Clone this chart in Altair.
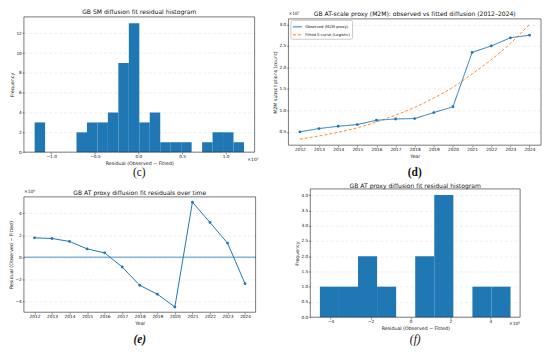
import altair as alt
import pandas as pd

C0 = "#1f77b4"
C1 = "#ff7f0e"
FONT = "DejaVu Sans"
SERIF = "Liberation Serif"

# ---------------- data ----------------
# (c) GB SM residual histogram, residual in units of 1e5
sm_edges = [-1.19, -1.07, -0.95, -0.83, -0.71, -0.59, -0.47, -0.35, -0.23, -0.11,
            0.01, 0.13, 0.25, 0.37, 0.49, 0.61, 0.73, 0.85, 0.97, 1.09, 1.21]
sm_counts = [3, 0, 0, 0, 2, 3, 3, 4, 9, 13, 3, 4, 1, 1, 1, 0, 1, 2, 2, 1]

# (d) observed vs fitted, units of 1e7
years = [2012, 2013, 2014, 2015, 2016, 2017, 2018, 2019, 2020, 2021, 2022, 2023, 2024]
observed = [0.50, 0.577, 0.63, 0.67, 0.77, 0.80, 0.81, 0.95, 1.085, 2.35, 2.50, 2.69, 2.75]
fitted = [0.33, 0.405, 0.49, 0.595, 0.73, 0.89, 1.07, 1.29, 1.54, 1.85, 2.18, 2.56, 3.00]

# (e) residuals over time, units of 1e6
residuals = [1.76, 1.70, 1.43, 0.75, 0.39, -0.90, -2.57, -3.37, -4.54, 5.01, 3.16, 1.28, -2.42]

# (f) AT residual histogram, units of 1e6
at_edges = [-4.54, -3.585, -2.63, -1.675, -0.72, 0.235, 1.19, 2.145, 3.10, 4.055, 5.01]
at_counts = [1, 1, 2, 1, 0, 2, 4, 0, 1, 1]

series_names = ["Observed (M2M proxy)", "Fitted S-curve (Logistic)"]

# ---------------- layout ----------------
W_c, W_d, W_e, W_f = 232, 254, 233, 211
H1, H2 = 136, 129
d_top, d_bot = 2, 129
e_top, e_bot = 8, 124
TS = 6.1  # panel title size

one = pd.DataFrame({"k": [0]})


def frame(w, top, bot):
    return alt.Chart(one).mark_rect(fill="transparent", stroke="#222", strokeWidth=0.6).encode(
        x=alt.value(0), x2=alt.value(w), y=alt.value(top), y2=alt.value(bot))


def label(text, x, y, size=4.5, align="center", baseline="middle", font=FONT, **kw):
    return alt.Chart(one).mark_text(text=text, fontSize=size, align=align, baseline=baseline,
                                    font=font, fill="#111", **kw).encode(
        x=alt.value(x), y=alt.value(y))


# ---------------- (c) ----------------
df_c = pd.DataFrame({"start": sm_edges[:-1], "end": sm_edges[1:], "count": sm_counts,
                     "base": [0] * len(sm_counts)})
bars_c = alt.Chart(df_c).mark_rect(color=C0).encode(
    x=alt.X("start:Q", scale=alt.Scale(domain=[-1.313, 1.332], nice=False, zero=False),
            axis=alt.Axis(values=[-1.0, -0.5, 0.0, 0.5, 1.0], format=".1f",
                          title="Residual (Observed − Fitted)")),
    x2="end:Q",
    y=alt.Y("count:Q", scale=alt.Scale(domain=[0, 13.65], nice=False),
            axis=alt.Axis(values=[0, 2, 4, 6, 8, 10, 12], title="Frequency")),
    y2="base:Q",
)
panel_c = alt.layer(
    bars_c, frame(W_c, 0, H1),
    label("GB SM diffusion fit residual histogram", W_c / 2, -5, size=TS),
    label("×10⁵", W_c + 4, H1 + 8, align="right"),
    label("(c)", W_c / 2, H1 + 21, size=11.5, font=SERIF),
).properties(width=W_c, height=H1)

# ---------------- (d) ----------------
df_obs = pd.DataFrame({"year": years, "value": observed, "series": series_names[0]})
df_fit = pd.DataFrame({"year": years, "value": fitted, "series": series_names[1]})
xd = alt.X("year:Q", scale=alt.Scale(domain=[2011.4, 2024.6], nice=False, zero=False),
           axis=alt.Axis(values=years, format="d", title="Year", offset=-(H1 - d_bot)))
yd = alt.Y("value:Q", scale=alt.Scale(domain=[0.19, 3.13], range=[d_bot, d_top], nice=False, zero=False),
           axis=alt.Axis(values=[0.5, 1.0, 1.5, 2.0, 2.5, 3.0], format=".1f",
                         title="M2M subscriptions (count)"))
leg = alt.Legend(title=None, orient="none", legendX=2, legendY=d_top + 1, fillColor="white",
                 strokeColor="#cccccc", padding=2, cornerRadius=1.5, labelFontSize=3.8,
                 labelFont=FONT, symbolType="stroke", symbolSize=80, symbolStrokeWidth=1,
                 rowPadding=1, labelColor="#111", labelOffset=3)
col = alt.Color("series:N", scale=alt.Scale(domain=series_names, range=[C0, C1]), legend=leg)
dash = alt.StrokeDash("series:N", scale=alt.Scale(domain=series_names, range=[[1, 0], [3, 2]]),
                      legend=leg)
obs_line = alt.Chart(df_obs).mark_line(strokeWidth=1.0, point=alt.OverlayMarkDef(filled=True, size=8)).encode(
    x=xd, y=yd, color=col, strokeDash=dash)
fit_line = alt.Chart(df_fit).mark_line(strokeWidth=0.9, interpolate="monotone").encode(
    x=xd, y=yd, color=col, strokeDash=dash)
panel_d = alt.layer(
    fit_line, obs_line, frame(W_d, d_top, d_bot),
    label("GB AT-scale proxy (M2M): observed vs fitted diffusion (2012–2024)", W_d / 2, -2.5, size=TS),
    label("×10⁷", 0, d_top - 5, align="left"),
    label("(d)", W_d / 2, H1 + 21, size=11.5, font=SERIF, fontWeight="bold"),
).properties(width=W_d, height=H1)

# ---------------- (e) ----------------
df_e = pd.DataFrame({"year": years, "res": residuals})
xe = alt.X("year:Q", scale=alt.Scale(domain=[2011.4, 2024.6], nice=False, zero=False),
           axis=alt.Axis(values=years, format="d", title="Year", offset=-(H2 - e_bot)))
ye = alt.Y("res:Q", scale=alt.Scale(domain=[-5.02, 5.49], range=[e_bot, e_top], nice=False, zero=False),
           axis=alt.Axis(values=[-4, -2, 0, 2, 4], format="d", title="Residual (Observed − Fitted)"))
line_e = alt.Chart(df_e).mark_line(color=C0, strokeWidth=1.0,
                                   point=alt.OverlayMarkDef(filled=True, size=8, color=C0)).encode(x=xe, y=ye)
zero_e = alt.Chart(pd.DataFrame({"res": [0]})).mark_rule(color=C0, strokeWidth=0.8).encode(y=ye)
panel_e = alt.layer(
    zero_e, line_e, frame(W_e, e_top, e_bot),
    label("GB AT proxy diffusion fit residuals over time", W_e / 2, e_top - 4, size=TS),
    label("×10⁶", 0, e_top - 5, align="left"),
    label("(e)", W_e / 2, H2 + 23, size=11.5, font=SERIF, fontWeight="bold", fontStyle="italic"),
).properties(width=W_e, height=H2)

# ---------------- (f) ----------------
df_f = pd.DataFrame({"start": at_edges[:-1], "end": at_edges[1:], "count": at_counts,
                     "base": [0] * len(at_counts)})
bars_f = alt.Chart(df_f).mark_rect(color=C0).encode(
    x=alt.X("start:Q", scale=alt.Scale(domain=[-5.02, 5.49], nice=False, zero=False),
            axis=alt.Axis(values=[-4, -2, 0, 2, 4], format="d", title="Residual (Observed − Fitted)")),
    x2="end:Q",
    y=alt.Y("count:Q", scale=alt.Scale(domain=[0, 4.2], nice=False),
            axis=alt.Axis(values=[0, 0.5, 1.0, 1.5, 2.0, 2.5, 3.0, 3.5, 4.0], format=".1f",
                          title="Frequency")),
    y2="base:Q",
)
panel_f = alt.layer(
    bars_f, frame(W_f, 0, H2),
    label("GB AT proxy diffusion fit residual histogram", W_f / 2, -3, size=TS),
    label("×10⁶", W_f, H2 + 7, align="right"),
    label("(f)", W_f / 2, H2 + 23, size=11.5, font=SERIF, fontStyle="italic"),
).properties(width=W_f, height=H2)

row1 = alt.hconcat(panel_c, panel_d, spacing=34, bounds="flush").resolve_scale(
    color="independent", strokeDash="independent")
row2 = alt.hconcat(panel_e, panel_f, spacing=55, bounds="flush")

chart = alt.vconcat(row1, row2, spacing=4).resolve_scale(
    color="independent", strokeDash="independent"
).configure_view(stroke=None).configure_axis(
    labelFont=FONT, titleFont=FONT, labelFontSize=4.3, titleFontSize=4.75, titleFontWeight="normal",
    labelColor="#111", titleColor="#111", tickColor="#222", tickSize=1.8, tickWidth=0.5,
    labelPadding=0.8, titlePadding=1.5, domain=False, labelFlush=False, labelOverlap=False,
).configure_axisX(grid=False).configure_axisY(
    grid=True, gridColor="#dcdcdc", gridDash=[3, 2], gridWidth=0.5
).properties(padding=0, background="white")

chart.save("out.html", embed_options={"renderer": "svg", "actions": False})
